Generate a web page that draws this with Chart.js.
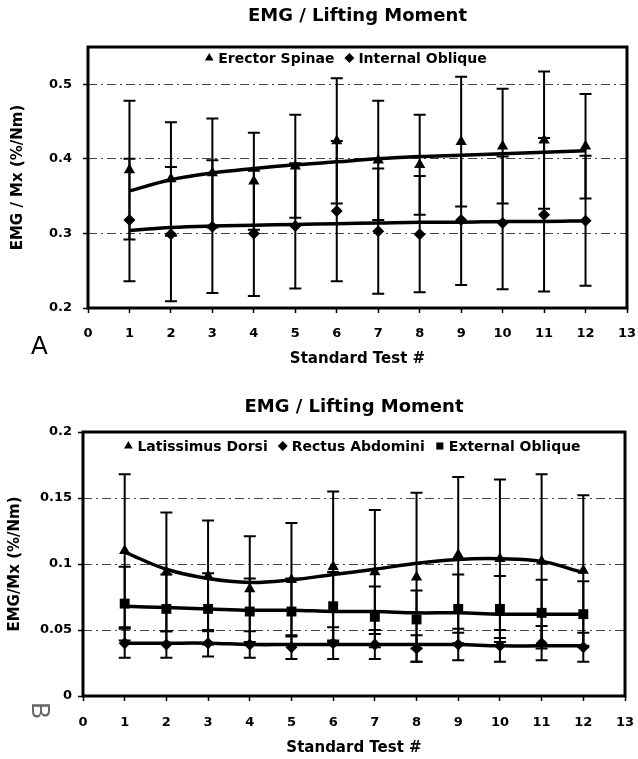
<!DOCTYPE html>
<html>
<head>
<meta charset="utf-8">
<script src="https://cdn.jsdelivr.net/npm/chart.js@4.4.0/dist/chart.umd.min.js"></script>
<style>
body { margin: 0; background: #fff; width: 638px; height: 759px; position: relative; overflow: hidden; }
.wrap { position: absolute; left: 0; width: 638px; }
#wrapA { top: 0; height: 380px; }
#wrapB { top: 380px; height: 379px; }
.tag { position: absolute; font-family: "Liberation Sans", Arial, sans-serif; font-size: 25px; line-height: 1; }
</style>
</head>
<body>
<div class="wrap" id="wrapA"><canvas id="chartA" width="638" height="380"></canvas></div>
<div class="wrap" id="wrapB"><canvas id="chartB" width="638" height="379"></canvas></div>
<div class="tag" style="left:31px;top:333px">A</div>
<div class="tag" style="left:32px;top:698px;color:#666;transform:rotate(90deg)">B</div>
<script>
// x axis: standard test number
const testNums = [1, 2, 3, 4, 5, 6, 7, 8, 9, 10, 11, 12];
const xTicks = [0, 1, 2, 3, 4, 5, 6, 7, 8, 9, 10, 11, 12, 13];

// panel A
const yTicksA = [0.2, 0.3, 0.4, 0.5];
const erectorMean = [0.385, 0.373, 0.381, 0.370, 0.390, 0.424, 0.398, 0.392, 0.423, 0.417, 0.425, 0.417];
const erectorSD = [0.093, 0.076, 0.073, 0.065, 0.069, 0.084, 0.080, 0.067, 0.087, 0.077, 0.092, 0.070];
const erectorTrend = [0.357, 0.372, 0.381, 0.387, 0.392, 0.396, 0.400, 0.403, 0.405, 0.407, 0.409, 0.411];
const intOblMean = [0.318, 0.299, 0.309, 0.300, 0.310, 0.330, 0.303, 0.299, 0.318, 0.314, 0.325, 0.317];
const intOblSD = [0.082, 0.090, 0.089, 0.084, 0.084, 0.094, 0.084, 0.078, 0.087, 0.089, 0.103, 0.087];
const intOblTrend = [0.304, 0.308, 0.310, 0.311, 0.312, 0.313, 0.314, 0.315, 0.315, 0.316, 0.316, 0.317];

// panel B
const yTicksB = [0, 0.05, 0.1, 0.15, 0.2];
const latDorsiMean = [0.110, 0.094, 0.091, 0.081, 0.088, 0.098, 0.094, 0.090, 0.107, 0.104, 0.102, 0.095];
const latDorsiSD = [0.058, 0.045, 0.042, 0.040, 0.043, 0.057, 0.047, 0.064, 0.059, 0.060, 0.066, 0.057];
const latDorsiTrend = [0.109, 0.096, 0.089, 0.086, 0.088, 0.092, 0.096, 0.1005, 0.1035, 0.104, 0.102, 0.0935];
const rectAbdMean = [0.040, 0.039, 0.040, 0.039, 0.037, 0.040, 0.039, 0.036, 0.039, 0.038, 0.040, 0.037];
const rectAbdSD = [0.011, 0.010, 0.010, 0.010, 0.009, 0.012, 0.011, 0.010, 0.012, 0.012, 0.013, 0.011];
const rectAbdTrend = [0.040, 0.040, 0.040, 0.039, 0.039, 0.039, 0.039, 0.039, 0.039, 0.038, 0.038, 0.038];
const extOblMean = [0.070, 0.066, 0.066, 0.064, 0.064, 0.068, 0.060, 0.058, 0.066, 0.066, 0.063, 0.062];
const extOblSD = [0.028, 0.026, 0.027, 0.025, 0.025, 0.026, 0.023, 0.022, 0.026, 0.025, 0.025, 0.025];
const extOblTrend = [0.068, 0.067, 0.066, 0.065, 0.065, 0.064, 0.064, 0.063, 0.063, 0.062, 0.062, 0.062];

Chart.defaults.font.family = '"DejaVu Sans", sans-serif';
Chart.defaults.font.weight = 'bold';
Chart.defaults.color = '#000';

const pts = vals => testNums.map((x, i) => ({ x: x, y: vals[i] }));

// error bars drawn under the markers
const errorBars = {
    id: 'errorBars',
    beforeDatasetsDraw(chart) {
        const { ctx, scales: { x, y } } = chart;
        ctx.save();
        ctx.strokeStyle = '#000';
        ctx.lineWidth = 2;
        chart.data.datasets.forEach(ds => {
            if (!ds.errors) return;
            ds.data.forEach((p, i) => {
                const px = x.getPixelForValue(p.x);
                const top = y.getPixelForValue(p.y + ds.errors[i]);
                const bot = y.getPixelForValue(p.y - ds.errors[i]);
                ctx.beginPath();
                ctx.moveTo(px, top); ctx.lineTo(px, bot);
                ctx.moveTo(px - 6, top); ctx.lineTo(px + 6, top);
                ctx.moveTo(px - 6, bot); ctx.lineTo(px + 6, bot);
                ctx.stroke();
            });
        });
        ctx.restore();
    }
};

// thick box around the plot area
const frame = {
    id: 'frame',
    afterDatasetsDraw(chart) {
        const { ctx, chartArea: a } = chart;
        ctx.save();
        ctx.strokeStyle = '#000';
        ctx.lineWidth = 3;
        ctx.strokeRect(a.left, a.top, a.right - a.left, a.bottom - a.top);
        ctx.restore();
    }
};

// legend inside the plot area, one row
const insideLegend = {
    id: 'insideLegend',
    afterDraw(chart, args, opts) {
        const { ctx, chartArea: a } = chart;
        const items = chart.data.datasets.filter(ds => !ds.trend);
        ctx.save();
        ctx.font = 'bold 14px "DejaVu Sans", sans-serif';
        ctx.textBaseline = 'middle';
        ctx.fillStyle = '#000';
        const r = 5, gap = 4, spacing = 10;
        const widths = items.map(ds => r * 2 + gap + ctx.measureText(ds.label).width);
        const total = widths.reduce((s, w) => s + w, 0) + spacing * (items.length - 1);
        let x = (a.left + a.right) / 2 + opts.dx - total / 2;
        const y = a.top + opts.dy;
        items.forEach((ds, k) => {
            Chart.helpers.drawPoint(ctx, { pointStyle: ds.pointStyle, radius: r, borderWidth: 0, rotation: 0 }, x + r, y);
            ctx.fillText(ds.label, x + r * 2 + gap, y + 1);
            x += widths[k] + spacing;
        });
        ctx.restore();
    }
};

function markerSet(label, mean, sd, style, radius) {
    return {
        label: label, data: pts(mean), errors: sd, pointStyle: style,
        pointRadius: radius, backgroundColor: '#000', borderColor: '#000',
        pointBorderWidth: 0, showLine: false, order: 2
    };
}

function trendSet(vals) {
    return {
        label: '', trend: true, data: pts(vals), showLine: true, pointRadius: 0,
        borderColor: '#000', borderWidth: 3.5, tension: 0.4, fill: false, order: 1
    };
}

function makeOptions(lay) {
    return {
        responsive: false,
        animation: false,
        events: [],
        layout: { padding: { left: 0, right: lay.right, top: 0, bottom: 0 } },
        plugins: {
            legend: { display: false },
            tooltip: { enabled: false },
            title: {
                display: true, text: 'EMG / Lifting Moment', fullSize: false,
                font: { size: 18, weight: 'bold' }, color: '#000',
                padding: { top: lay.titleTop, bottom: lay.titleBottom }
            },
            insideLegend: { dx: lay.legendDx, dy: lay.legendDy }
        },
        scales: {
            x: {
                type: 'linear', min: 0, max: 13,
                afterBuildTicks: s => { s.ticks = xTicks.map(v => ({ value: v })); },
                afterFit: s => { s.height = lay.xHeight; s.paddingLeft = 0; s.paddingRight = 0; },
                ticks: { font: { size: 13, weight: 'bold' }, padding: lay.xPad, maxRotation: 0, callback: v => String(v) },
                grid: { drawOnChartArea: false, tickLength: 5, tickColor: '#000', tickWidth: 1.5 },
                border: { display: false },
                title: {
                    display: true, text: 'Standard Test #', font: { size: 15, weight: 'bold' },
                    padding: { top: 0, bottom: lay.xTitleBottom }
                }
            },
            y: {
                type: 'linear', min: lay.yMin, max: lay.yMax,
                afterBuildTicks: s => { s.ticks = lay.yTicks.map(v => ({ value: v })); },
                afterFit: s => { s.width = lay.yWidth; },
                ticks: { font: { size: 13, weight: 'bold' }, padding: lay.yPad, callback: v => String(v) },
                grid: { color: '#444', lineWidth: 1, tickLength: 5, tickColor: '#000', tickWidth: 1.5 },
                border: { display: false, dash: [9, 4, 2, 4] },
                title: {
                    display: true, text: lay.yTitle, font: { size: 15, weight: 'bold' },
                    padding: { top: lay.yTitleTop, bottom: 0 }
                }
            }
        }
    };
}

new Chart(document.getElementById('chartA'), {
    type: 'scatter',
    data: {
        datasets: [
            markerSet('Erector Spinae', erectorMean, erectorSD, 'triangle', 6.5),
            markerSet('Internal Oblique', intOblMean, intOblSD, 'rectRot', 6),
            trendSet(erectorTrend),
            trendSet(intOblTrend)
        ]
    },
    options: makeOptions({
        right: 11, titleTop: 6, titleBottom: 19.4,
        legendDx: -12, legendDy: 11,
        xHeight: 72, xPad: 13, xTitleBottom: 12,
        yMin: 0.2, yMax: 0.55, yTicks: yTicksA, yWidth: 88, yPad: 11,
        yTitle: 'EMG / Mx (%/Nm)', yTitleTop: 9
    }),
    plugins: [errorBars, frame, insideLegend]
});

new Chart(document.getElementById('chartB'), {
    type: 'scatter',
    data: {
        datasets: [
            markerSet('Latissimus Dorsi', latDorsiMean, latDorsiSD, 'triangle', 6.5),
            markerSet('Rectus Abdomini', rectAbdMean, rectAbdSD, 'rectRot', 6),
            markerSet('External Oblique', extOblMean, extOblSD, 'rect', 7),
            trendSet(latDorsiTrend),
            trendSet(rectAbdTrend),
            trendSet(extOblTrend)
        ]
    },
    options: makeOptions({
        right: 13, titleTop: 17, titleBottom: 13.4,
        legendDx: -2, legendDy: 14,
        xHeight: 63, xPad: 14, xTitleBottom: 2,
        yMin: 0, yMax: 0.2, yTicks: yTicksB, yWidth: 83, yPad: 6,
        yTitle: 'EMG/Mx (%/Nm)', yTitleTop: 6
    }),
    plugins: [errorBars, frame, insideLegend]
});
</script>
</body>
</html>
